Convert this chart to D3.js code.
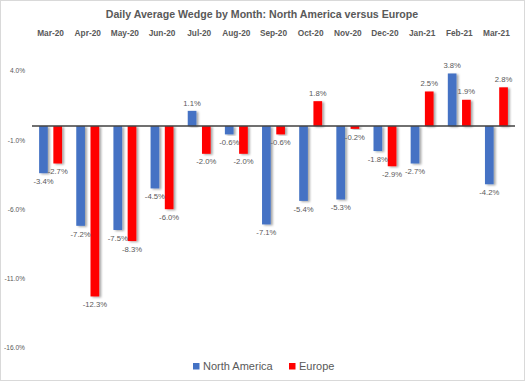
<!DOCTYPE html>
<html><head><meta charset="utf-8">
<script src="https://cdn.jsdelivr.net/npm/d3@7"></script>
<style>
body{margin:0;background:#fff;}
text{font-family:"Liberation Sans",Arial,sans-serif;fill:#595959;}
</style></head>
<body>
<svg id="chart" width="525" height="381"></svg>
<script>
const months = ["Mar-20","Apr-20","May-20","Jun-20","Jul-20","Aug-20","Sep-20","Oct-20","Nov-20","Dec-20","Jan-21","Feb-21","Mar-21"];
const seriesNames = ["North America","Europe"];
const northAmerica = [-3.4,-7.2,-7.5,-4.5,1.1,-0.6,-7.1,-5.4,-5.3,-1.8,-2.7,3.8,-4.2];
const europe = [-2.7,-12.3,-8.3,-6.0,-2.0,-2.0,-0.6,1.8,-0.2,-2.9,2.5,1.9,2.8];
const yTicks = [4,-1,-6,-11,-16];
const colors = ["#4472C4","#FF0000"];

const pct = v => v.toFixed(1) + "%";

const svg = d3.select("#chart");
const defs = svg.append("defs");
const f = defs.append("filter").attr("id","shadow").attr("x","-50%").attr("y","-10%").attr("width","200%").attr("height","120%");
f.append("feDropShadow").attr("dx",2).attr("dy",1).attr("stdDeviation",1).attr("flood-color","#000").attr("flood-opacity",0.35);

svg.append("rect").attr("x",0.5).attr("y",0.5).attr("width",524).attr("height",380)
  .attr("fill","#fff").attr("stroke","#d9d9d9");

const x0 = d3.scaleBand().domain(months).range([32,515]).padding(0);
const x1 = d3.scaleBand().domain(seriesNames).range([0,x0.bandwidth()]).paddingInner(0.39).paddingOuter(0.5);
const y = d3.scaleLinear().domain([-16,4]).range([347.7,70.7]);

// title
svg.append("text").attr("x",262).attr("y",18).attr("text-anchor","middle")
  .style("font-size","10.6px").style("font-weight","bold").text("Daily Average Wedge by Month: North America versus Europe");

// top category labels
const xAxis = d3.axisTop(x0).tickSize(0).tickPadding(0);
const gx = svg.append("g").attr("transform","translate(0,36)").call(xAxis);
gx.select(".domain").remove();
gx.selectAll("text").style("font-size","8.3px").style("font-weight","bold").attr("dy",0).attr("fill","#595959");

// y axis labels
const yAxis = d3.axisLeft(y).tickValues(yTicks).tickSize(0).tickPadding(0).tickFormat(pct);
const gy = svg.append("g").attr("transform","translate(25,0)").call(yAxis);
gy.select(".domain").remove();
gy.selectAll("text").style("font-size","6.6px").attr("fill","#595959");

const data = months.map((m,i)=>({month:m, values:[{s:seriesNames[0],v:northAmerica[i]},{s:seriesNames[1],v:europe[i]}]}));

const groups = svg.append("g").selectAll("g").data(data).join("g")
  .attr("transform",d=>`translate(${x0(d.month)},0)`);

groups.selectAll("rect").data(d=>d.values).join("rect")
  .attr("x",d=>x1(d.s)).attr("width",x1.bandwidth())
  .attr("y",d=>Math.min(y(d.v),y(0))).attr("height",d=>Math.abs(y(d.v)-y(0)))
  .attr("fill",(d,i)=>colors[i]).attr("filter","url(#shadow)");

groups.selectAll("text.lbl").data(d=>d.values).join("text").attr("class","lbl")
  .attr("x",d=>x1(d.s)+x1.bandwidth()/2)
  .attr("y",d=>d.v>=0 ? y(d.v)-8 : y(d.v)+8)
  .attr("dy","0.35em").attr("text-anchor","middle")
  .style("font-size","7.7px").text(d=>pct(d.v));

// zero line
svg.append("line").attr("x1",32).attr("x2",515).attr("y1",y(0)).attr("y2",y(0))
  .attr("stroke","#404040").attr("stroke-width",1.5);

// legend
const legend = svg.append("g");
const lx = [193,289];
seriesNames.forEach((s,i)=>{
  legend.append("rect").attr("x",lx[i]).attr("y",363).attr("width",6.5).attr("height",6.5).attr("fill",colors[i]);
  legend.append("text").attr("x",lx[i]+10).attr("y",370).style("font-size","11px").text(s);
});
</script>
</body></html>
